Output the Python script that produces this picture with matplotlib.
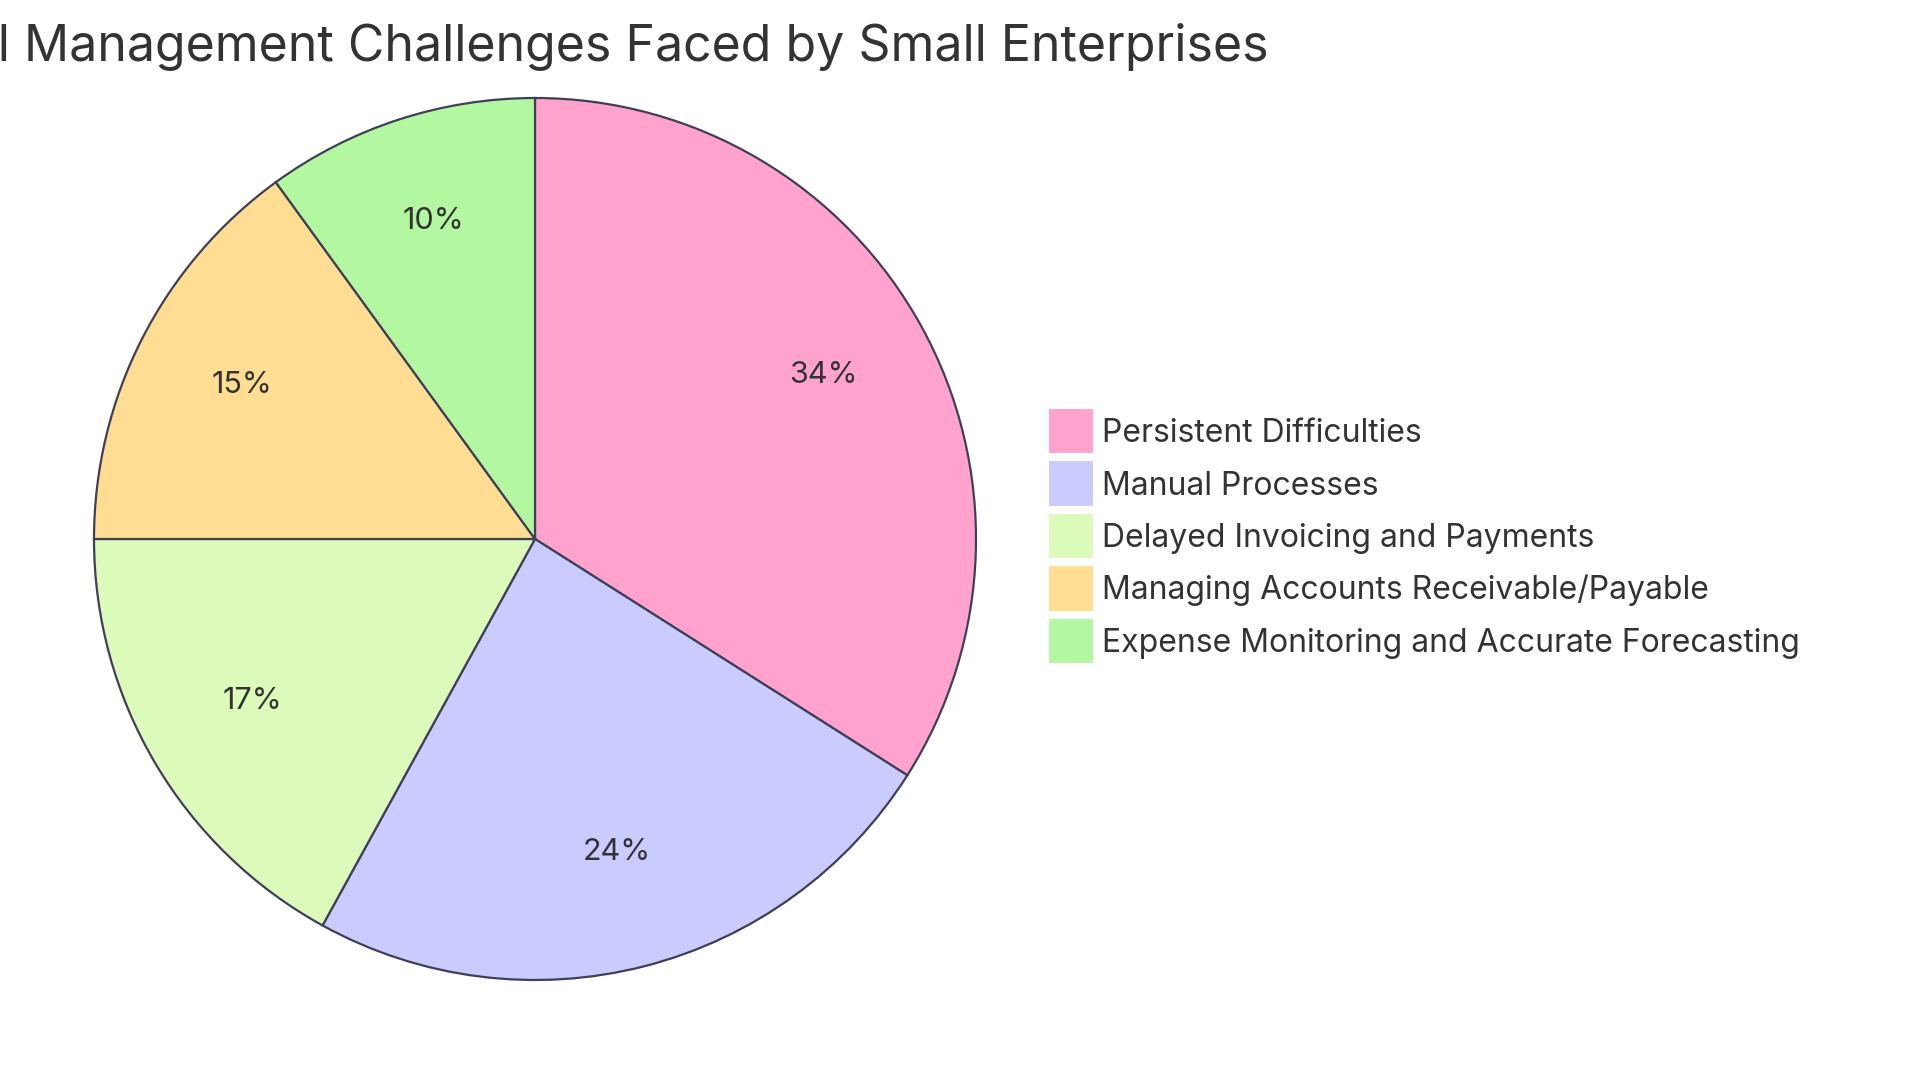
import matplotlib.pyplot as plt
from matplotlib.patches import Patch, Rectangle
from matplotlib.legend_handler import HandlerPatch

plt.rcParams['font.family'] = ['Inter', 'DejaVu Sans']

labels = ["Persistent Difficulties", "Manual Processes", "Delayed Invoicing and Payments",
          "Managing Accounts Receivable/Payable", "Expense Monitoring and Accurate Forecasting"]
values = [34, 24, 17, 15, 10]
colors = ["#FFA3CE", "#CACBFF", "#DCFAB9", "#FFDE94", "#B3F8A1"]
title = "Financial Management Challenges Faced by Small Enterprises"


class SquareHandler(HandlerPatch):
    # square swatch as wide as the handle, centred on the text row
    def create_artists(self, legend, orig_handle, xdescent, ydescent, width, height, fontsize, trans):
        s = width
        p = Rectangle((-xdescent, -ydescent + height / 2 - s / 2), s, s)
        self.update_prop(p, orig_handle, legend)
        p.set_transform(trans)
        return [p]


W, H = 1920, 1080
fig = plt.figure(figsize=(W / 100, H / 100), dpi=100)

# pie centre (535, 539) px, radius 441 px
cx, cy, r = 535, 539, 441
ax = fig.add_axes([(cx - r) / W, (H - cy - r) / H, 2 * r / W, 2 * r / H])
wedges, texts, autotexts = ax.pie(values, colors=colors, startangle=90, counterclock=False,
                                  autopct=lambda p: f"{p:.0f}%", pctdistance=0.745,
                                  wedgeprops=dict(edgecolor="#3F4058", linewidth=1.6),
                                  textprops=dict(fontsize=22, color="#333333"))
ax.set_xlim(-1, 1)
ax.set_ylim(-1, 1)
ax.set_aspect("equal")
for w in wedges:
    w.set_clip_on(False)
for t in autotexts:
    x, y = t.get_position()
    t.set_position((x, y + 0.012))

# title is wider than the canvas in the original, left part is cut off
fig.text(1269 / W, 1 - 47 / H, title, ha="right", va="center", fontsize=36, color="#333333")

handles = [Patch(facecolor=c, edgecolor="white", linewidth=1.5) for c in colors]
fig.legend(handles, labels, loc="upper left", bbox_to_anchor=(1048 / W, 1 - 417 / H),
           bbox_transform=fig.transFigure, frameon=False, fontsize=23,
           handlelength=1.45, handleheight=1.0, handletextpad=0.23, labelspacing=0.63,
           borderpad=0, borderaxespad=0, labelcolor="#333333",
           handler_map={Patch: SquareHandler()})

fig.savefig("out.png", dpi=100)
